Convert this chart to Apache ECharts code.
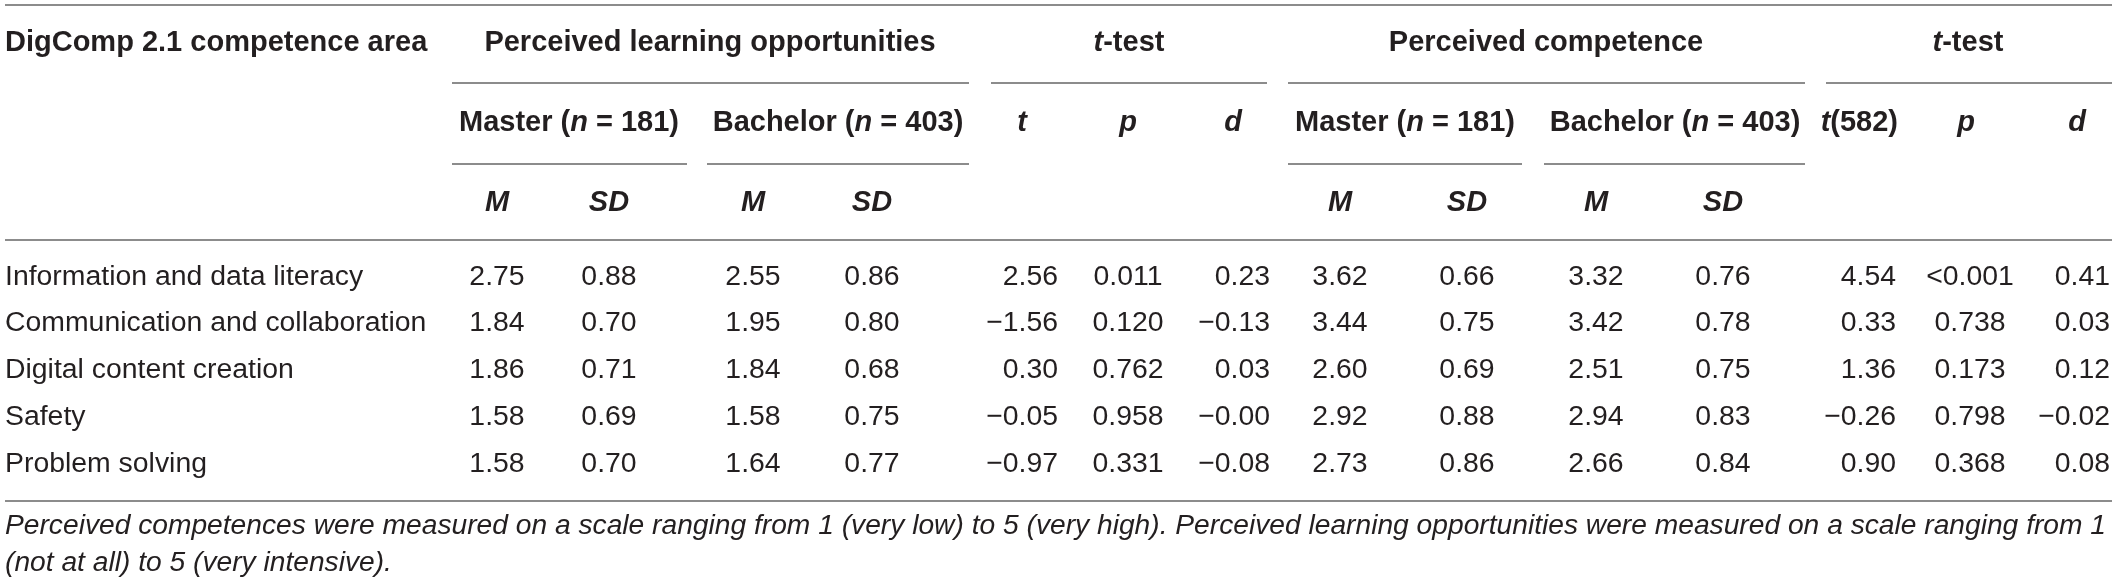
<!DOCTYPE html>
<html>
<head>
<meta charset="utf-8">
<title>DigComp 2.1 competence areas</title>
<script src="https://cdn.jsdelivr.net/npm/echarts@6/dist/echarts.min.js"></script>
<style>
	html, body { margin: 0; padding: 0; background: #fff; }
	#table-chart { width: 2117px; height: 586px; }
</style>
</head>
<body>
<div id="table-chart"></div>
<script>
// --- table data ---
var areas = ['Information and data literacy', 'Communication and collaboration', 'Digital content creation', 'Safety', 'Problem solving'];

// perceived learning opportunities
var ploMasterM = [2.75, 1.84, 1.86, 1.58, 1.58];
var ploMasterSD = [0.88, 0.70, 0.71, 0.69, 0.70];
var ploBachelorM = [2.55, 1.95, 1.84, 1.58, 1.64];
var ploBachelorSD = [0.86, 0.80, 0.68, 0.75, 0.77];
var ploT = [2.56, -1.56, 0.30, -0.05, -0.97];
var ploP = [0.011, 0.120, 0.762, 0.958, 0.331];
var ploD = [0.23, -0.13, 0.03, -0.00, -0.08];

// perceived competence
var pcMasterM = [3.62, 3.44, 2.60, 2.92, 2.73];
var pcMasterSD = [0.66, 0.75, 0.69, 0.88, 0.86];
var pcBachelorM = [3.32, 3.42, 2.51, 2.94, 2.66];
var pcBachelorSD = [0.76, 0.78, 0.75, 0.83, 0.84];
var pcT = [4.54, 0.33, 1.36, -0.26, 0.90];
var pcP = ['<0.001', 0.738, 0.173, 0.798, 0.368];
var pcD = [0.41, 0.03, 0.12, -0.02, 0.08];

var stubHeader = 'DigComp 2.1 competence area';
var groupHeaders = ['Perceived learning opportunities', 'Perceived competence'];
var sampleLabels = ['Master', 'Bachelor'];
var sampleSizes = [181, 403];
var testDf = 582;
var footnoteLines = [
	'Perceived competences were measured on a scale ranging from 1 (very low) to 5 (very high). Perceived learning opportunities were measured on a scale ranging from 1',
	'(not at all) to 5 (very intensive).'
];

// --- layout (page pixels, mapped through the hidden value axes) ---
var W = 2117, H = 586;
var FONT = '"Liberation Sans", Arial, Helvetica, sans-serif';
var INK = '#231f20';
var RULE = '#8c8c8c';

var rowY = {head1: 43, head2: 123, head3: 203, data: [277, 323, 370, 417, 464], foot: [526, 563]};
var colX = {
	stub: 5,
	ploMM: 497, ploMSD: 609, ploBM: 753, ploBSD: 872,
	ploT: 1058, ploP: 1128, ploD: 1270,
	pcMM: 1340, pcMSD: 1467, pcBM: 1596, pcBSD: 1723,
	pcT: 1896, pcP: 1970, pcD: 2110
};

// helpers
function fmt(v, dec) {
	if (typeof v === 'string') {
		return v;
	}
	var neg = v < 0 || Object.is(v, -0);
	return (neg ? '\u2212' : '') + Math.abs(v).toFixed(dec);
}
function nLabel(name, n) {
	return '{b|' + name + ' (}{bi|n}{b| = ' + n + ')}';
}

// cells: [x, y, rich text, align]
var cells = [];
function cell(x, y, text, align) {
	cells.push([x, y, text, align || 'center']);
}

// header row 1
cell(colX.stub, rowY.head1, '{b|' + stubHeader + '}', 'left');
cell(710, rowY.head1, '{b|' + groupHeaders[0] + '}');
cell(1129, rowY.head1, '{bi|t}{b|-test}');
cell(1546, rowY.head1, '{b|' + groupHeaders[1] + '}');
cell(1968, rowY.head1, '{bi|t}{b|-test}');

// header row 2
cell(569, rowY.head2, nLabel(sampleLabels[0], sampleSizes[0]));
cell(838, rowY.head2, nLabel(sampleLabels[1], sampleSizes[1]));
cell(1022, rowY.head2, '{bi|t}');
cell(1128, rowY.head2, '{bi|p}');
cell(1233, rowY.head2, '{bi|d}');
cell(1405, rowY.head2, nLabel(sampleLabels[0], sampleSizes[0]));
cell(1675, rowY.head2, nLabel(sampleLabels[1], sampleSizes[1]));
cell(1898, rowY.head2, '{bi|t}{b|(' + testDf + ')}', 'right');
cell(1966, rowY.head2, '{bi|p}');
cell(2077, rowY.head2, '{bi|d}');

// header row 3
[colX.ploMM, colX.ploBM, colX.pcMM, colX.pcBM].forEach(function (x) {
	cell(x, rowY.head3, '{bi|M}');
});
[colX.ploMSD, colX.ploBSD, colX.pcMSD, colX.pcBSD].forEach(function (x) {
	cell(x, rowY.head3, '{bi|SD}');
});

// body
areas.forEach(function (name, i) {
	var y = rowY.data[i];
	cell(colX.stub, y, '{n|' + name + '}', 'left');
	cell(colX.ploMM, y, '{n|' + fmt(ploMasterM[i], 2) + '}');
	cell(colX.ploMSD, y, '{n|' + fmt(ploMasterSD[i], 2) + '}');
	cell(colX.ploBM, y, '{n|' + fmt(ploBachelorM[i], 2) + '}');
	cell(colX.ploBSD, y, '{n|' + fmt(ploBachelorSD[i], 2) + '}');
	cell(colX.ploT, y, '{n|' + fmt(ploT[i], 2) + '}', 'right');
	cell(colX.ploP, y, '{n|' + fmt(ploP[i], 3) + '}');
	cell(colX.ploD, y, '{n|' + fmt(ploD[i], 2) + '}', 'right');
	cell(colX.pcMM, y, '{n|' + fmt(pcMasterM[i], 2) + '}');
	cell(colX.pcMSD, y, '{n|' + fmt(pcMasterSD[i], 2) + '}');
	cell(colX.pcBM, y, '{n|' + fmt(pcBachelorM[i], 2) + '}');
	cell(colX.pcBSD, y, '{n|' + fmt(pcBachelorSD[i], 2) + '}');
	cell(colX.pcT, y, '{n|' + fmt(pcT[i], 2) + '}', 'right');
	cell(colX.pcP, y, '{n|' + fmt(pcP[i], 3) + '}');
	cell(colX.pcD, y, '{n|' + fmt(pcD[i], 2) + '}', 'right');
});

// footnote
footnoteLines.forEach(function (line, i) {
	cell(colX.stub, rowY.foot[i], '{i|' + line + '}', 'left');
});

// rules: [x1, x2, y]
var rules = [
	[5, 2112, 5],
	[452, 969, 83], [991, 1267, 83], [1288, 1805, 83], [1826, 2112, 83],
	[452, 687, 164], [707, 969, 164], [1288, 1522, 164], [1544, 1805, 164],
	[5, 2112, 240],
	[5, 2112, 501]
];

var rich = {
	b: {fontFamily: FONT, fontSize: 29, fontWeight: 'bold', fill: INK},
	bi: {fontFamily: FONT, fontSize: 29, fontWeight: 'bold', fontStyle: 'italic', fill: INK},
	n: {fontFamily: FONT, fontSize: 28.4, fill: INK},
	i: {fontFamily: FONT, fontSize: 28.2, fontStyle: 'italic', fill: INK}
};

var tableChart = echarts.init(document.getElementById('table-chart'));
var option = {
	backgroundColor: '#fff',
	animation: false,
	grid: {left: 0, right: 0, top: 0, bottom: 0},
	xAxis: {type: 'value', min: 0, max: W, show: false},
	yAxis: {type: 'value', min: 0, max: H, inverse: true, show: false},
	series: [
		{
			type: 'custom',
			name: 'rules',
			data: rules,
			renderItem: function (params, api) {
				var a = api.coord([api.value(0), api.value(2)]);
				var b = api.coord([api.value(1), api.value(2)]);
				return {
					type: 'line',
					shape: {x1: a[0], y1: a[1], x2: b[0], y2: b[1]},
					style: {stroke: RULE, lineWidth: 2}
				};
			}
		},
		{
			type: 'custom',
			name: 'cells',
			data: cells.map(function (c) { return [c[0], c[1]]; }),
			renderItem: function (params, api) {
				var c = cells[params.dataIndex];
				var p = api.coord([api.value(0), api.value(1)]);
				return {
					type: 'text',
					x: p[0],
					y: p[1],
					style: {
						text: c[2],
						align: c[3],
						verticalAlign: 'middle',
						rich: rich
					}
				};
			}
		}
	]
};
tableChart.setOption(option);
</script>
</body>
</html>
